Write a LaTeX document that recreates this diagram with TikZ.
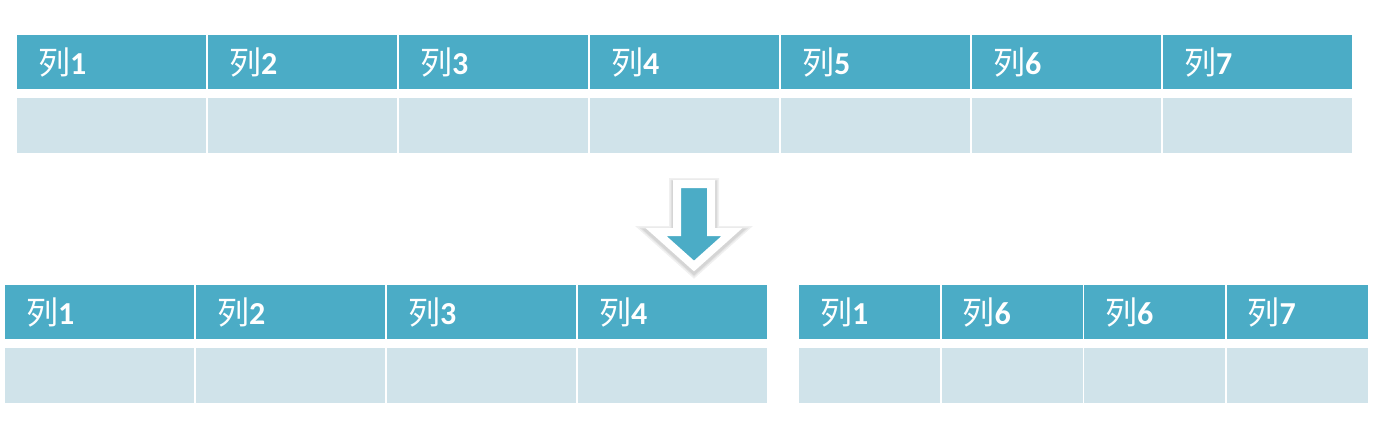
\documentclass[tikz,border=0pt]{standalone}
\usepackage{fontspec}
\setmainfont{Carlito}
\newfontfamily\cjk{Noto Sans CJK SC}
\usepackage{xcolor}
\usetikzlibrary{positioning}
\definecolor{headblue}{RGB}{75,172,198}
\definecolor{bodyblue}{RGB}{208,227,234}
\newcommand{\colname}[1]{{\cjk 列}\textbf{#1}}

\begin{document}
\begin{tikzpicture}[
    x = 1pt, y = -1pt,
    head/.style = {rectangle, fill = headblue, text = white, anchor = north west, inner xsep = 21pt, inner ysep = 0pt, minimum height = 54pt, align = left, font = \fontsize{32}{34}\selectfont},
    cell/.style = {rectangle, fill = bodyblue, inner sep = 0pt, minimum height = 55pt},
    % soft grey rim round the white border of the arrow
    softshadow/.style = {draw = black, line width = #1, opacity = 0.06, fill = none, transform canvas = {yshift = -2pt}},
    downarrow/.style = {fill = headblue, draw = white, line width = 8pt,
        preaction = {softshadow = 16pt}, preaction = {softshadow = 13pt}, preaction = {softshadow = 11pt}},
    ]
    \useasboundingbox (0,0) rectangle (1389,421);

    % draw top table
    \foreach \n [count = \i from 0] in {1,...,7} {
        \node [head, text width = 147pt] (t\n) at (17+\i*191, 35) {\colname{\n}};
        \node [cell, minimum width = 189pt, below = 8pt of t\n] (tc\n) {};
    }

    % draw arrow
    \draw [downarrow] (677,184) -- (711,184) -- (711,232) -- (732,232) -- (694,266) -- (656,232) -- (677,232) -- cycle;

    % draw left table
    \foreach \n [count = \i from 0] in {1,...,4} {
        \node [head, text width = 147pt] (l\n) at (5+\i*191, 285) {\colname{\n}};
        \node [cell, minimum width = 189pt, below = 8pt of l\n] (lc\n) {};
    }

    % draw right table
    \foreach \n [count = \i from 0] in {1,6,6,7} {
        \node [head, text width = 99pt] (r\i) at (799+\i*142.5, 285) {\colname{\n}};
        \node [cell, minimum width = 141pt, below = 8pt of r\i] (rc\i) {};
    }
\end{tikzpicture}
\end{document}
